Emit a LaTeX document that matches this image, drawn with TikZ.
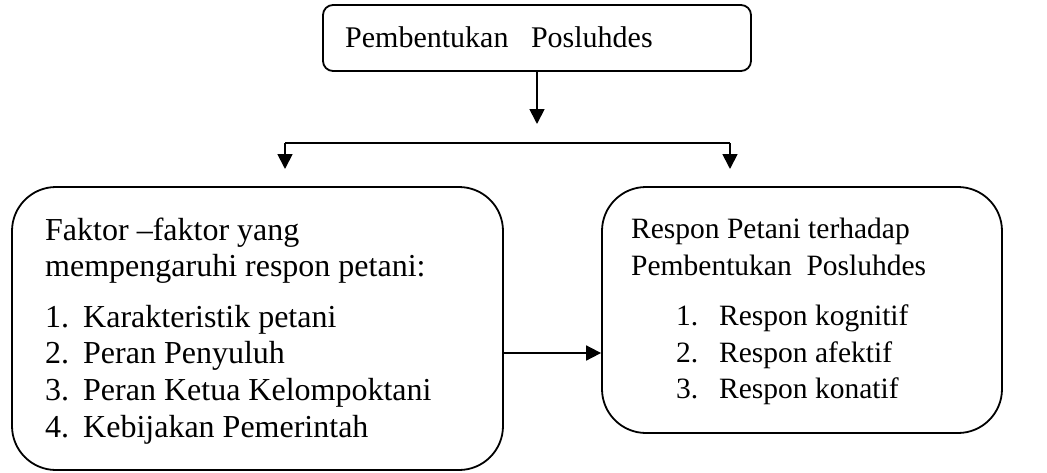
\documentclass[tikz,border=0pt]{standalone}
\usepackage{fontspec}
\setmainfont{Liberation Serif}
\usetikzlibrary{arrows.meta}
\begin{document}
\begin{tikzpicture}[x=1pt,y=-1pt,
  box/.style={draw,line width=1.8pt,inner sep=0pt},
  txt/.style={anchor=base west,inner sep=0pt,font=\fontsize{29.5}{35}\selectfont},
  ltxt/.style={anchor=base west,inner sep=0pt,font=\fontsize{32}{36}\selectfont},
  arr/.style={line width=1.8pt,-{Triangle[length=15pt,width=15pt]}},
  ln/.style={line width=1.8pt}]
\useasboundingbox (0,0) rectangle (1047,472);
% boxes
\node[box,rounded corners=10pt,minimum width=428pt,minimum height=66pt] (top) at (537,38) {};
\node[box,rounded corners=44pt,minimum width=491pt,minimum height=283pt] (lbox) at (257.5,328.5) {};
\node[box,rounded corners=44pt,minimum width=400pt,minimum height=246pt] (rbox) at (802,310) {};
% texts
\node[txt,font=\fontsize{30}{35}\selectfont] (t0) at (345,47) {Pembentukan\ \ \ Posluhdes};
\node[ltxt] (l1) at (45,240) {Faktor –faktor yang};
\node[ltxt] (l2) at (45,276) {mempengaruhi respon petani:};
\node[ltxt] (n1) at (45,327) {1.};
\node[ltxt] (i1) at (83,327) {Karakteristik petani};
\node[ltxt] (n2) at (45,363) {2.};
\node[ltxt] (i2) at (83,363) {Peran Penyuluh};
\node[ltxt] (n3) at (45,400) {3.};
\node[ltxt] (i3) at (83,400) {Peran Ketua Kelompoktani};
\node[ltxt] (n4) at (45,437) {4.};
\node[ltxt] (i4) at (83,437) {Kebijakan Pemerintah};
\node[txt] (r1) at (631,238) {Respon Petani terhadap};
\node[txt] (r2) at (631,275) {Pembentukan\ \ Posluhdes};
\node[txt] (m1) at (676,325) {1.};
\node[txt] (j1) at (719,325) {Respon kognitif};
\node[txt] (m2) at (676,362) {2.};
\node[txt] (j2) at (719,362) {Respon afektif};
\node[txt] (m3) at (676,398) {3.};
\node[txt] (j3) at (719,398) {Respon konatif};
% connectors
\coordinate (c1) at (537,124);
\coordinate (hl) at (285,143);
\coordinate (hr) at (730,143);
\coordinate (al) at (285,169);
\coordinate (ar) at (730,169);
\coordinate (hy) at (0,353);
\draw[arr] (top.south) -- (c1);
\draw[ln] (hl) -- (hr);
\draw[arr] (hl) -- (al);
\draw[arr] (hr) -- (ar);
\draw[arr] (lbox.east |- hy) -- (rbox.west |- hy);
\end{tikzpicture}
\end{document}
